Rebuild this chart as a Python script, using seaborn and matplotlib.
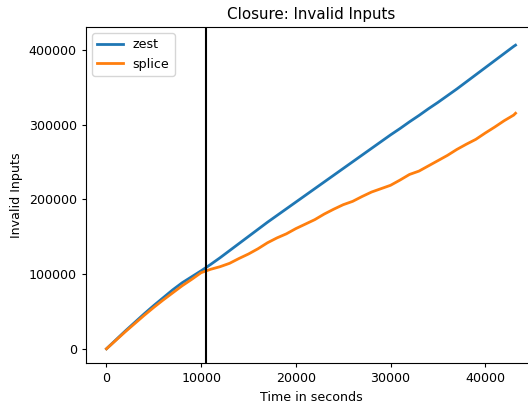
import matplotlib
matplotlib.use("Agg")
import matplotlib.pyplot as plt
import seaborn as sns
import pandas as pd

# Elapsed fuzzing time (seconds)
time_s = [0, 1000, 2000, 3000, 4000, 5000, 6000, 7000, 8000, 9000, 10000,
          11000, 12000, 13000, 14000, 15000, 16000, 17000, 18000, 19000, 20000,
          21000, 22000, 23000, 24000, 25000, 26000, 27000, 28000, 29000, 30000,
          31000, 32000, 33000, 34000, 35000, 36000, 37000, 38000, 39000, 40000,
          41000, 42000, 43000, 43200]

# Cumulative invalid inputs per fuzzer
zest = [0, 12000, 24000, 35500, 47000, 58000, 68500, 79000, 88500, 96500, 104500,
        113000, 122000, 131500, 141000, 150500, 160000, 169500, 178500, 187500, 196500,
        205500, 214500, 223500, 232500, 241500, 250500, 259500, 268500, 277500, 286500,
        295000, 304000, 312500, 321500, 330000, 339000, 348000, 357500, 367000, 376500,
        386000, 395500, 405000, 406700]
splice = [0, 11500, 23000, 34000, 45000, 55500, 65500, 75000, 84500, 93000, 102000,
          106500, 110000, 114500, 121000, 127000, 134000, 142000, 148500, 154000, 161000,
          167000, 173000, 180500, 187000, 193000, 197500, 204000, 210000, 214500, 219000,
          226000, 233500, 238000, 245000, 252000, 259000, 267000, 274000, 280500, 289000,
          297000, 305500, 313000, 315500]

marker_time = 10550

df = pd.DataFrame({
    "time": time_s * 2,
    "count": zest + splice,
    "fuzzer": ["zest"] * len(time_s) + ["splice"] * len(time_s),
})

plt.rcParams.update({
    "font.size": 9.1,
    "axes.titlesize": 10.9,
    "xtick.major.size": 3.2,
    "ytick.major.size": 3.2,
})

fig = plt.figure(figsize=(5.28, 4.07), dpi=100)
ax = fig.add_axes([86 / 528, 44 / 407, 450 / 528, 336 / 407])

sns.lineplot(data=df, x="time", y="count", hue="fuzzer",
             palette=["#1f77b4", "#ff7f0e"], linewidth=2, ax=ax)
ax.axvline(marker_time, color="black", linewidth=1.5)

ax.set_xlim(-2160, 45360)
ax.set_ylim(-19000, 431000)
ax.set_xticks([0, 10000, 20000, 30000, 40000])
ax.set_yticks([0, 100000, 200000, 300000, 400000])
ax.set_title("Closure: Invalid Inputs")
ax.set_xlabel("Time in seconds")
ax.set_ylabel("Invalid Inputs")
ax.legend(loc="upper left", title=None)

fig.savefig("out.png", dpi=100)
